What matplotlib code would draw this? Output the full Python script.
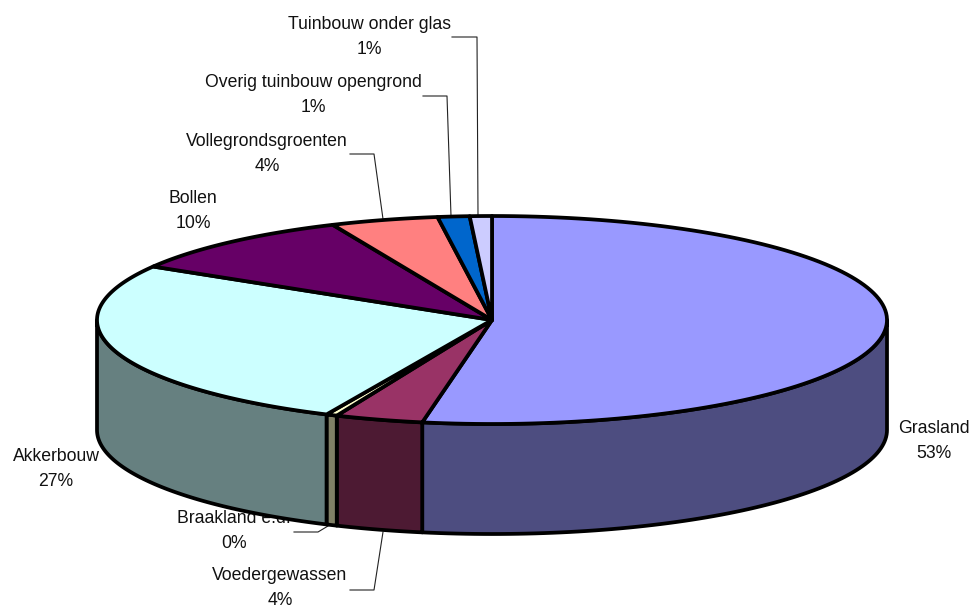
import numpy as np
import matplotlib
matplotlib.use('Agg')
import matplotlib.pyplot as plt
from matplotlib.patches import Polygon

plt.rcParams['font.family'] = ['Liberation Sans', 'DejaVu Sans']

labels = ['Grasland', 'Voedergewassen', 'Braakland e.d.', 'Akkerbouw', 'Bollen',
          'Vollegrondsgroenten', 'Overig tuinbouw opengrond', 'Tuinbouw onder glas']
values = [52.8, 3.6, 0.45, 26.7, 9.8, 4.4, 1.3, 0.9]
top_colors = ['#9999ff', '#993366', '#ffffcc', '#ccffff', '#660066', '#ff8080', '#0066cc', '#ccccff']
side_colors = ['#4d4d80', '#4d1a33', '#808066', '#668080', '#330033', '#804040', '#003366', '#666680']

# label centre (px), and leader line (px) where there is one
label_pos = [(934, 441), (280, 588), (234, 531), (56, 469), (193, 211), (267, 154), (313, 95), (369, 37)]
leaders = {
    1: [(350, 590), (374, 590), (383, 532)],
    2: [(294, 532), (318, 532), (328, 526)],
    5: [(350, 154), (374, 154), (383, 219)],
    6: [(423, 96), (447, 96), (451, 216)],
    7: [(452, 37), (477, 37), (478, 215)],
}

W, H = 972, 608
cx, cy = 492, 320
rx, ry = 395, 104
depth = 110


def ell(t):
    # t in degrees clockwise from the top
    t = np.radians(t)
    return cx + rx * np.sin(t), cy - ry * np.cos(t)


fig = plt.figure(figsize=(W / 100, H / 100), dpi=100)
ax = fig.add_axes([0, 0, 1, 1])
ax.set_xlim(0, W)
ax.set_ylim(H, 0)
ax.axis('off')

edges = np.cumsum([0] + values) / sum(values) * 360

# labels go under the pie, the Braakland one gets clipped by it
for i, name in enumerate(labels):
    lx, ly = label_pos[i]
    ax.text(lx, ly, f'{name}\n{values[i]:.0f}%', ha='center', va='center', fontsize=12.7,
            linespacing=1.6, color='#111111', zorder=1)

# side walls, only the front half of the ellipse shows
for i in range(len(values)):
    a, b = max(edges[i], 90), min(edges[i + 1], 270)
    if a >= b:
        continue
    x, y = ell(np.linspace(a, b, 80))
    px = np.r_[x, x[::-1]]
    py = np.r_[y, y[::-1] + depth]
    ax.add_patch(Polygon(np.c_[px, py], fc=side_colors[i], ec='black', lw=2.7, joinstyle='round', zorder=2))

# top slices
for i in range(len(values)):
    x, y = ell(np.linspace(edges[i], edges[i + 1], 120))
    ax.add_patch(Polygon(np.c_[np.r_[cx, x], np.r_[cy, y]], fc=top_colors[i], ec='black', lw=2.7,
                         joinstyle='round', zorder=3))

for k, pts in leaders.items():
    xs, ys = zip(*pts)
    ax.plot(xs, ys, color='#222222', lw=0.8, zorder=1.5)

fig.savefig('out.png', dpi=100, facecolor='white')
